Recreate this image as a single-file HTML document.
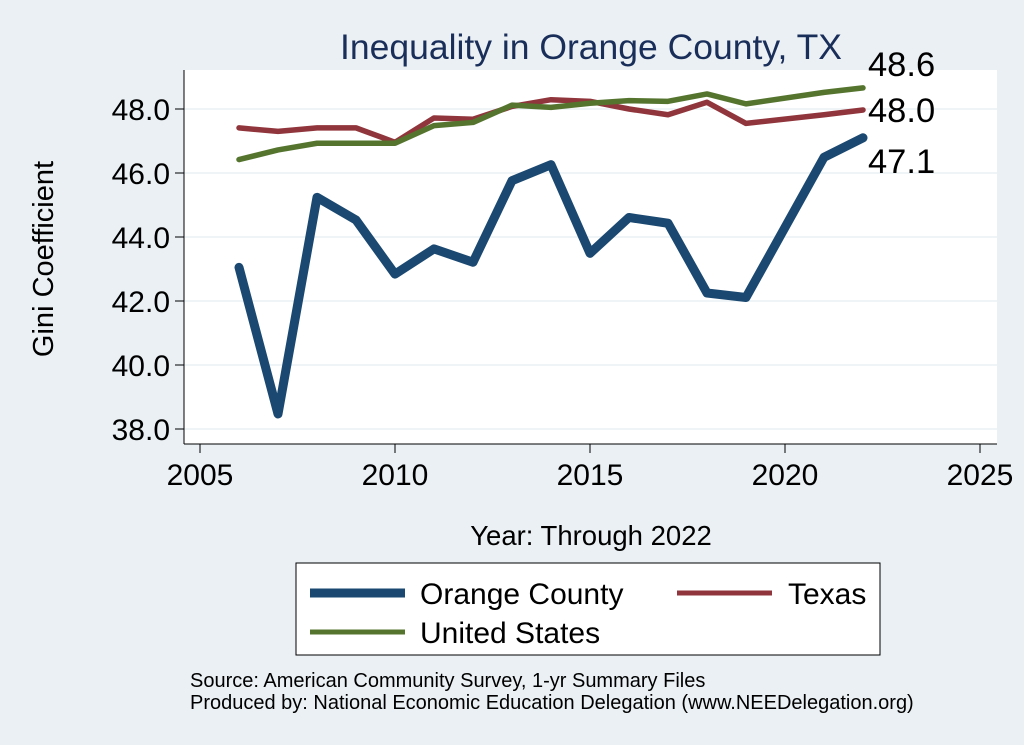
<!DOCTYPE html>
<html><head><meta charset="utf-8"><style>
body{margin:0;background:#eaf0f3;font-family:"Liberation Sans",sans-serif;}
svg{display:block}
</style></head><body>
<svg width="1024" height="745" viewBox="0 0 1024 745" id="chart">
<rect x="0" y="0" width="1024" height="745" fill="#eaf0f3"/>
<text x="591" y="59" font-size="35.5" fill="#1a2e5a" text-anchor="middle">Inequality in Orange County, TX</text>
<rect x="184" y="70" width="813" height="374" fill="#fff"/>
<g id="grid"></g>
<g id="axes"></g>
<g id="series"></g>
<text transform="translate(53,259) rotate(-90)" font-size="29" text-anchor="middle" fill="#000">Gini Coefficient</text>
<text x="591" y="545" font-size="27.5" text-anchor="middle" fill="#000">Year: Through 2022</text>
<g>
<rect x="296" y="563" width="584" height="92" fill="#fff" stroke="#000" stroke-width="1"/>
<line x1="310" y1="593" x2="405" y2="593" stroke="#1a4870" stroke-width="9"/>
<text x="420" y="604" font-size="30">Orange County</text>
<line x1="677" y1="593" x2="772" y2="593" stroke="#90353b" stroke-width="5"/>
<text x="788" y="604" font-size="30">Texas</text>
<line x1="310" y1="632" x2="405" y2="632" stroke="#55752f" stroke-width="5"/>
<text x="420" y="643" font-size="30">United States</text>
</g>
<text x="190" y="687" font-size="20">Source: American Community Survey, 1-yr Summary Files</text>
<text x="190" y="709" font-size="20">Produced by: National Economic Education Delegation (www.NEEDelegation.org)</text>
</svg>
<script>
const years=[2006,2007,2008,2009,2010,2011,2012,2013,2014,2015,2016,2017,2018,2019,2021,2022];
const orange=[43.05,38.47,45.24,44.53,42.84,43.63,43.21,45.76,46.26,43.49,44.61,44.43,42.25,42.11,46.49,47.10];
const texas=[47.41,47.30,47.41,47.41,46.96,47.72,47.68,48.08,48.29,48.24,48.00,47.82,48.21,47.55,47.82,47.97];
const us=[46.42,46.72,46.93,46.93,46.93,47.48,47.58,48.12,48.05,48.18,48.26,48.24,48.47,48.16,48.52,48.66];
const yTicks=[38,40,42,44,46,48];
const xTicks=[2005,2010,2015,2020,2025];
const endLabels=["47.1","48.0","48.6"];
const NS="http://www.w3.org/2000/svg";
const X=v=>200+(v-2005)*39;
const Y=v=>429-(v-38)*32;
function mk(tag,attrs,parent){const e=document.createElementNS(NS,tag);for(const k in attrs)e.setAttribute(k,attrs[k]);parent.appendChild(e);return e;}
const grid=document.getElementById('grid'),axes=document.getElementById('axes'),ser=document.getElementById('series');
yTicks.forEach(t=>{
 const g=mk('line',{x1:184,x2:997,y1:Y(t),y2:Y(t),stroke:'#eaf0f3','stroke-width':1.5},grid);
 
 
 const tk=mk('line',{x1:175,x2:184,y1:Y(t),y2:Y(t),stroke:'#000'},axes);
 
 
 const tx=mk('text',{x:170,y:Y(t)+11,'font-size':30,'text-anchor':'end'},axes);
 tx.textContent=t.toFixed(1);
 
 
});
const ya=mk('line',{x1:184,x2:184,y1:70,y2:444,stroke:'#000'},axes);


const xa=mk('line',{x1:184,x2:997,y1:444,y2:444,stroke:'#000'},axes);


xTicks.forEach(t=>{
 const tk=mk('line',{x1:X(t),x2:X(t),y1:444,y2:453,stroke:'#000'},axes);
 
 
 const tx=mk('text',{x:X(t),y:485,'font-size':30,'text-anchor':'middle'},axes);
 tx.textContent=t;
 
 
});
function line(vals,color,w,name){
 const p=mk('polyline',{points:years.map((y,i)=>X(y)+','+Y(vals[i])).join(' '),fill:'none',stroke:color,'stroke-width':w,'stroke-linejoin':'round','stroke-linecap':'round'},ser);
 
 
}
line(texas,'#90353b',5.5,'texas-line');
line(us,'#55752f',5.5,'united-states-line');
line(orange,'#1a4870',9,'orange-county-line');
const last=years.length-1;
const lx=X(years[last])+5;
[[orange,0,35],[texas,1,12],[us,2,-12]].forEach(([s,i,dy])=>{
 const t=mk('text',{x:lx,y:Y(s[last])+dy,'font-size':34.5},ser);
 t.textContent=endLabels[i];
 
 
});
</script>
</body></html>
